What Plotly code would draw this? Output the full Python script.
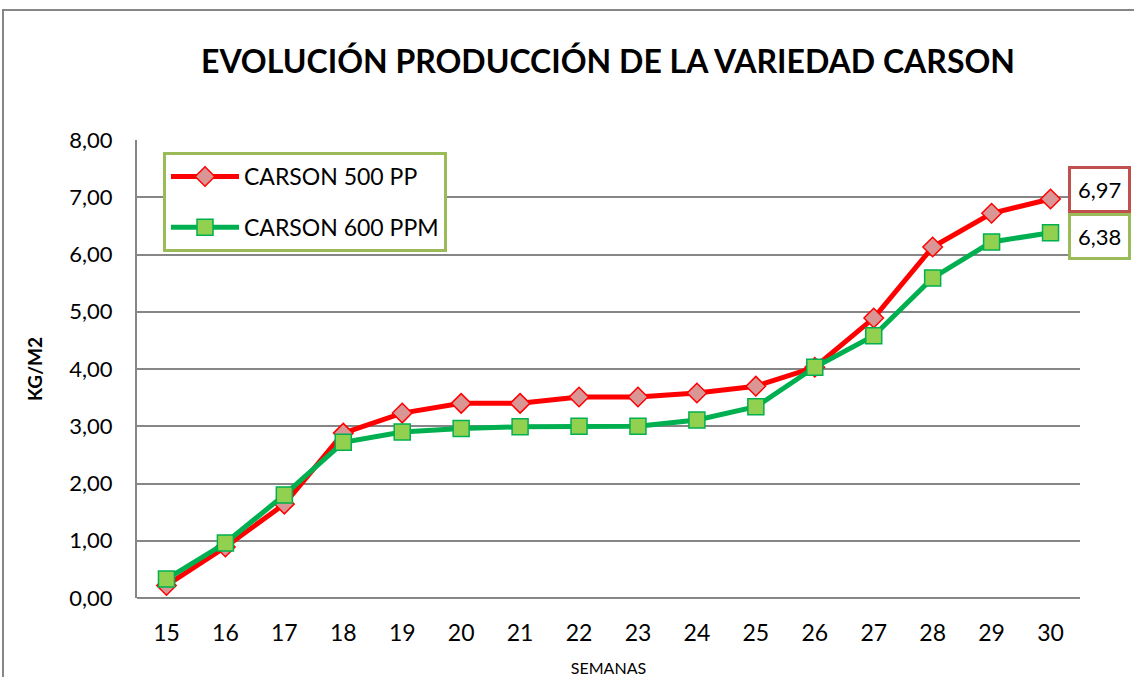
import plotly.graph_objects as go

semanas = [15, 16, 17, 18, 19, 20, 21, 22, 23, 24, 25, 26, 27, 28, 29, 30]
carson_500 = [0.22, 0.89, 1.64, 2.88, 3.23, 3.40, 3.40, 3.51, 3.51, 3.58, 3.70, 4.03, 4.89, 6.13, 6.72, 6.97]
carson_600 = [0.33, 0.96, 1.80, 2.72, 2.90, 2.96, 2.99, 3.00, 3.00, 3.11, 3.34, 4.03, 4.58, 5.59, 6.22, 6.38]
y_ticks = [0, 1, 2, 3, 4, 5, 6, 7, 8]

W, H = 1134, 677
L, R, T, B = 137, 1080, 140, 598

FONT = "Lato"

fig = go.Figure()
fig.add_trace(go.Scatter(
    x=semanas, y=carson_500, name="CARSON 500 PP", mode="lines+markers",
    line=dict(color="#FF0000", width=5),
    marker=dict(symbol="diamond", size=15, color="#D99694", line=dict(color="#FF0000", width=1.5)),
    legendgroup="a",
))
fig.add_trace(go.Scatter(
    x=semanas, y=carson_600, name="CARSON 600 PPM", mode="lines+markers",
    line=dict(color="#00B050", width=5),
    marker=dict(symbol="square", size=16, color="#92D050", line=dict(color="#00B050", width=1.5)),
    legendgroup="b",
))

def fmt(v):
    return f"{v:.2f}".replace(".", ",")

fig.add_annotation(x=semanas[-1], y=carson_500[-1], text=fmt(carson_500[-1]),
                   xanchor="left", yanchor="middle", xshift=17, yshift=9, showarrow=False,
                   font=dict(family=FONT, size=22, color="black"),
                   bgcolor="white", bordercolor="#C0504D", borderwidth=3, borderpad=7)
fig.add_annotation(x=semanas[-1], y=carson_600[-1], text=fmt(carson_600[-1]),
                   xanchor="left", yanchor="middle", xshift=17, yshift=-4, showarrow=False,
                   font=dict(family=FONT, size=22, color="black"),
                   bgcolor="white", bordercolor="#9BBB59", borderwidth=3, borderpad=7)

def px2x(px):
    return (px - L) / (R - L)

def py2y(py):
    return (B - py) / (B - T)

# outer chart border
fig.add_shape(type="rect", xref="paper", yref="paper",
              x0=px2x(3), x1=px2x(1140), y0=py2y(690), y1=py2y(10),
              line=dict(color="#868686", width=2), fillcolor="rgba(0,0,0,0)", layer="below")

fig.update_layout(
    width=W, height=H, autosize=False,
    margin=dict(l=L, r=W - R, t=T, b=H - B),
    paper_bgcolor="white", plot_bgcolor="white",
    title=dict(text="<b>EVOLUCIÓN PRODUCCIÓN DE LA VARIEDAD CARSON</b>",
               x=608 / W, xanchor="center",
               y=1 - 62 / H, yanchor="middle",
               font=dict(family=FONT, size=32, color="black")),
    showlegend=True,
    legend=dict(x=px2x(163), y=py2y(152), xanchor="left", yanchor="top",
                bordercolor="#9BBB59", borderwidth=3, bgcolor="white",
                font=dict(family=FONT, size=23, color="black"),
                tracegroupgap=18, itemwidth=68),
    xaxis=dict(range=[14.5, 30.5], tickvals=semanas, ticktext=[str(s) for s in semanas],
               showgrid=False, zeroline=False, showline=False, automargin=False,
               tickfont=dict(family=FONT, size=23, color="black"), ticks="",
               ticklabelstandoff=19,
               title=dict(text="SEMANAS", font=dict(family=FONT, size=16, color="black"), standoff=17),
               fixedrange=True),
    yaxis=dict(range=[0, 8], tickvals=y_ticks, ticktext=[fmt(v) for v in y_ticks],
               showgrid=True, gridcolor="#868686", gridwidth=1.5, automargin=False,
               zeroline=False, showline=True, linecolor="#868686", linewidth=2,
               tickfont=dict(family=FONT, size=22, color="black"), ticks="",
               ticklabelstandoff=18,
               title=dict(text="<b>KG/M2</b>", font=dict(family=FONT, size=19, color="black"), standoff=22),
               fixedrange=True),
)
# bottom axis line
fig.add_shape(type="line", xref="paper", yref="paper", x0=0, x1=1, y0=0, y1=0,
              line=dict(color="#868686", width=2))

fig.write_html("out.html",
               config={"responsive": False, "displayModeBar": False},
               post_script="document.body.style.margin='0';document.body.style.overflow='hidden';")
